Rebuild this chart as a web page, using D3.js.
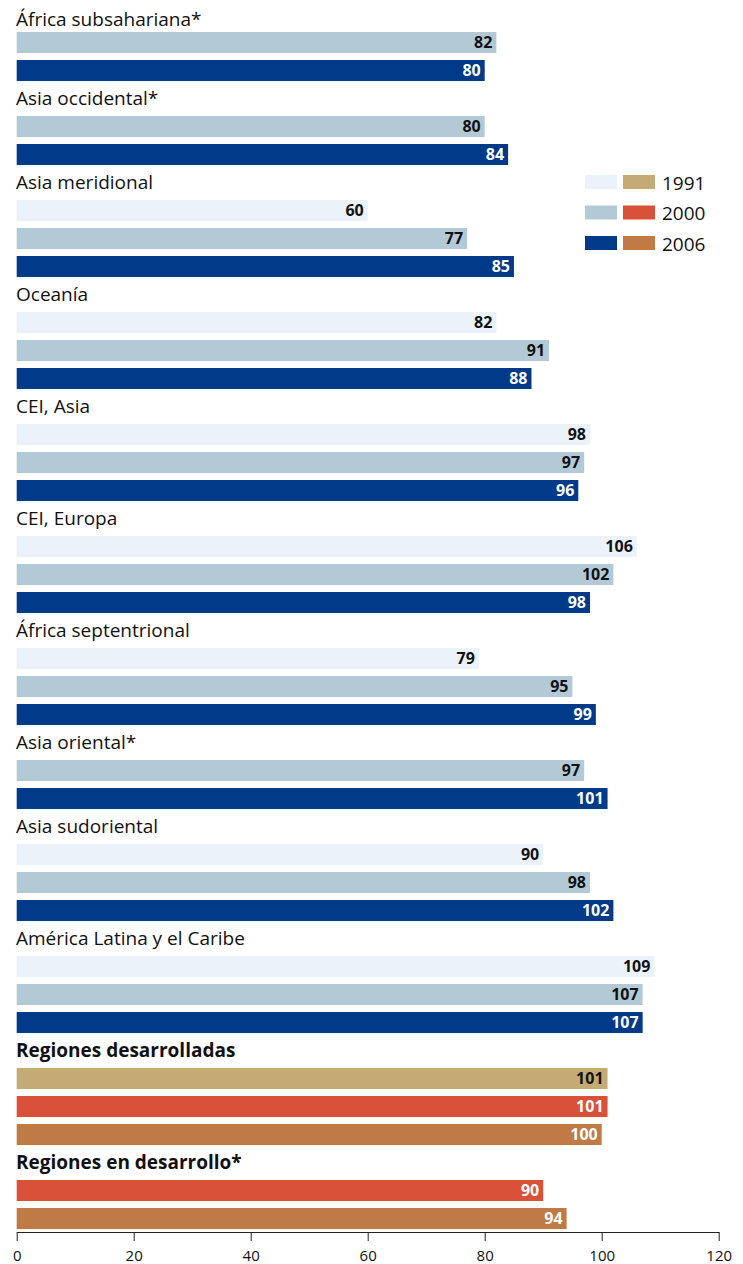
<!DOCTYPE html>
<html>
<head>
<meta charset="utf-8">
<script src="https://cdn.jsdelivr.net/npm/d3@7"></script>
<style>
  body { margin: 0; background: #fff; }
  svg { display: block; font-family: "Open Sans", "Noto Sans", sans-serif; }
</style>
</head>
<body>
<script>
// regions, top to bottom
const regions = [
  "África subsahariana*", "Asia occidental*", "Asia meridional", "Oceanía",
  "CEI, Asia", "CEI, Europa", "África septentrional", "Asia oriental*",
  "Asia sudoriental", "América Latina y el Caribe",
  "Regiones desarrolladas", "Regiones en desarrollo*"
];
const years = ["1991", "2000", "2006"];
// null = no data for that year
const v1991 = [null, null, 60, 82, 98, 106, 79, null, 90, 109, 101, null];
const v2000 = [82, 80, 77, 91, 97, 102, 95, 97, 98, 107, 101, 90];
const v2006 = [80, 84, 85, 88, 96, 98, 99, 101, 102, 107, 100, 94];
const aggregates = ["Regiones desarrolladas", "Regiones en desarrollo*"];
const xTicks = [0, 20, 40, 60, 80, 100, 120];

const regionColors = ["#ebf2f9", "#b3cad6", "#003a89"];
const aggColors = ["#c4ab76", "#da5139", "#c07a45"];
const regionText = ["#111", "#111", "#fff"];
const aggText = ["#111", "#fff", "#fff"];

const width = 743, height = 1264;
const rowH = 28, barH = 21, topY = 4;

const svg = d3.select("body").append("svg")
  .attr("width", width)
  .attr("height", height);

const x = d3.scaleLinear().domain([0, 120]).range([16.7, 718.7]);

// lay out rows: label row followed by one row per available year
const rows = [];
let r = 0;
regions.forEach((name, i) => {
  const isAgg = aggregates.includes(name);
  rows.push({type: "label", name, isAgg, row: r++});
  [v1991, v2000, v2006].forEach((arr, k) => {
    if (arr[i] == null) return;
    rows.push({type: "bar", name, isAgg, k, value: arr[i], row: r++});
  });
});

const y = d => topY + d.row * rowH;

svg.append("g")
  .selectAll("text")
  .data(rows.filter(d => d.type === "label"))
  .join("text")
    .attr("x", 16)
    .attr("y", d => Math.max(y(d) + 17, 26))
    .attr("font-size", 19)
    .attr("font-weight", d => d.isAgg ? "bold" : "normal")
    .attr("fill", "#111")
    .text(d => d.name);

const bars = rows.filter(d => d.type === "bar");

svg.append("g")
  .selectAll("rect")
  .data(bars)
  .join("rect")
    .attr("x", x(0))
    .attr("y", d => y(d))
    .attr("width", d => x(d.value) - x(0))
    .attr("height", barH)
    .attr("fill", d => (d.isAgg ? aggColors : regionColors)[d.k]);

svg.append("g")
  .selectAll("text")
  .data(bars)
  .join("text")
    .attr("x", d => x(d.value) - 4)
    .attr("y", d => y(d) + barH / 2)
    .attr("dy", "0.36em")
    .attr("text-anchor", "end")
    .attr("font-size", 16)
    .attr("font-weight", "bold")
    .attr("fill", d => (d.isAgg ? aggText : regionText)[d.k])
    .text(d => d.value);

// legend
const legend = svg.append("g").attr("transform", "translate(585,175)");
const lg = legend.selectAll("g")
  .data(years)
  .join("g")
    .attr("transform", (d, i) => `translate(0,${i * 30.5})`);
lg.append("rect").attr("width", 32).attr("height", 14)
  .attr("fill", (d, i) => regionColors[i]);
lg.append("rect").attr("x", 38).attr("width", 32).attr("height", 14)
  .attr("fill", (d, i) => aggColors[i]);
lg.append("text")
  .attr("x", 77)
  .attr("y", 14.5)
  .attr("font-size", 19)
  .attr("fill", "#111")
  .text(d => d);

// axis
const axis = svg.append("g")
  .attr("transform", "translate(0,1232)")
  .call(d3.axisBottom(x).tickValues(xTicks).tickSize(9).tickPadding(9).tickSizeOuter(0));
axis.select(".domain").attr("stroke", "#222");
axis.selectAll(".tick line").attr("stroke", "#222");
axis.selectAll(".tick text")
  .attr("font-family", "\"Open Sans\", sans-serif")
  .attr("font-size", 15)
  .attr("fill", "#111");
</script>
</body>
</html>
